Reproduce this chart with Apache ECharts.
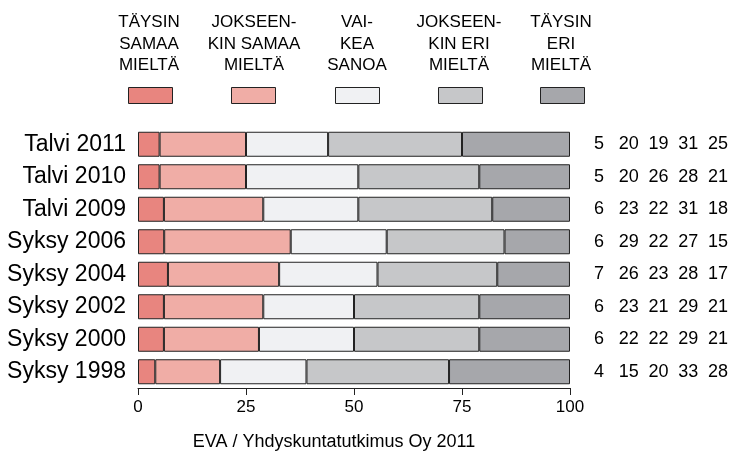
<!DOCTYPE html>
<html>
<head>
<meta charset="utf-8">
<script src="https://cdn.jsdelivr.net/npm/echarts@6/dist/echarts.min.js"></script>
<style>
html,body{margin:0;padding:0;background:#fff;}
#chart{width:741px;height:457px;}
</style>
</head>
<body>
<div id="chart"></div>
<script>
// Periods (top to bottom)
const periods = ['Talvi 2011','Talvi 2010','Talvi 2009','Syksy 2006','Syksy 2004','Syksy 2002','Syksy 2000','Syksy 1998'];
// Response categories (legend labels)
const responseNames = ['TÄYSIN\nSAMAA\nMIELTÄ','JOKSEEN-\nKIN SAMAA\nMIELTÄ','VAI-\nKEA\nSANOA','JOKSEEN-\nKIN ERI\nMIELTÄ','TÄYSIN\nERI\nMIELTÄ'];
// Shares (%) per response, per period (bar segment widths)
const taysinSamaa     = [5, 5, 6, 6.06, 6.93, 6, 6, 4];
const jokseenkinSamaa = [20, 20, 23, 29.29, 25.74, 23, 22, 15];
const vaikeaSanoa     = [19, 26, 22, 22.22, 22.77, 21, 22, 20];
const jokseenkinEri   = [31, 28, 31, 27.27, 27.72, 29, 29, 33];
const taysinEri       = [25, 21, 18, 15.15, 16.83, 21, 21, 28];
// X axis ticks
const xTicks = [0, 25, 50, 75, 100];
const footer = 'EVA / Yhdyskuntatutkimus Oy 2011';

const seriesData = [taysinSamaa, jokseenkinSamaa, vaikeaSanoa, jokseenkinEri, taysinEri];
const colors = ['#E8857F', '#F0ADA6', '#F0F1F3', '#C6C7C9', '#A6A7AB'];
const FONT = '"Liberation Sans", Arial, Helvetica, sans-serif';
const TXT = '#000';

const legendLeft = [128, 231, 335, 438, 540];
const legendCenter = [149, 254, 357, 459, 561];

const chart = echarts.init(document.getElementById('chart'), null, {renderer: 'canvas'});

const barSeries = seriesData.map((arr, k) => ({
  name: responseNames[k],
  type: 'bar',
  stack: 'total',
  barWidth: 25,
  data: arr,
  silent: true,
  itemStyle: {color: colors[k], borderColor: '#222', borderWidth: 1},
  emphasis: {disabled: true}
}));

const numberData = [];
seriesData.forEach((arr, j) => {
  arr.forEach((v, i) => numberData.push([j, i, Math.round(v)]));
});

const option = {
  animation: false,
  backgroundColor: '#fff',
  textStyle: {fontFamily: FONT},
  grid: [
    {left: 138, right: 171, top: 128, bottom: 69},
    {left: 584, width: 149, top: 128, bottom: 69}
  ],
  legend: responseNames.map((n, k) => ({
    data: [n],
    left: legendLeft[k],
    top: 87,
    padding: 0,
    itemWidth: 44,
    itemHeight: 16,
    icon: 'rect',
    selectedMode: false,
    formatter: () => '',
    itemStyle: {borderColor: '#222', borderWidth: 1}
  })),
  xAxis: [
    {
      type: 'value', gridIndex: 0, min: 0, max: 100, interval: 25,
      axisLine: {show: true, lineStyle: {color: '#222', width: 1}},
      axisTick: {show: true, length: 7, lineStyle: {color: '#222'}},
      splitLine: {show: false},
      axisLabel: {fontSize: 17, color: TXT, margin: 11, fontFamily: FONT,
        formatter: v => xTicks.includes(v) ? String(v) : ''}
    },
    {
      type: 'category', gridIndex: 1, data: ['a', 'b', 'c', 'd', 'e'], show: false
    }
  ],
  yAxis: [
    {
      type: 'category', gridIndex: 0, data: periods, inverse: true,
      axisLine: {show: false}, axisTick: {show: false},
      axisLabel: {fontSize: 23, color: TXT, margin: 12, fontFamily: FONT}
    },
    {
      type: 'category', gridIndex: 1, data: periods, inverse: true, show: false
    }
  ],
  series: barSeries.concat([{
    type: 'scatter',
    xAxisIndex: 1, yAxisIndex: 1,
    data: numberData,
    symbolSize: 1,
    silent: true,
    itemStyle: {color: '#ffffff', opacity: 1},
    label: {show: true, position: 'inside', formatter: p => String(p.value[2]),
      fontSize: 18, color: TXT, opacity: 1, textBorderWidth: 0, fontFamily: FONT},
    labelLayout: {hideOverlap: false}
  }]),
  graphic: responseNames.map((n, k) => ({
    type: 'text',
    x: legendCenter[k],
    y: 44,
    silent: true,
    style: {text: n, align: 'center', verticalAlign: 'middle',
      font: '17px ' + FONT, lineHeight: 21.5, fill: TXT}
  })).concat([{
    type: 'text', x: 334, y: 442, silent: true,
    style: {text: footer, align: 'center', verticalAlign: 'middle',
      font: '18px ' + FONT, fill: TXT}
  }])
};

chart.setOption(option);
</script>
</body>
</html>
